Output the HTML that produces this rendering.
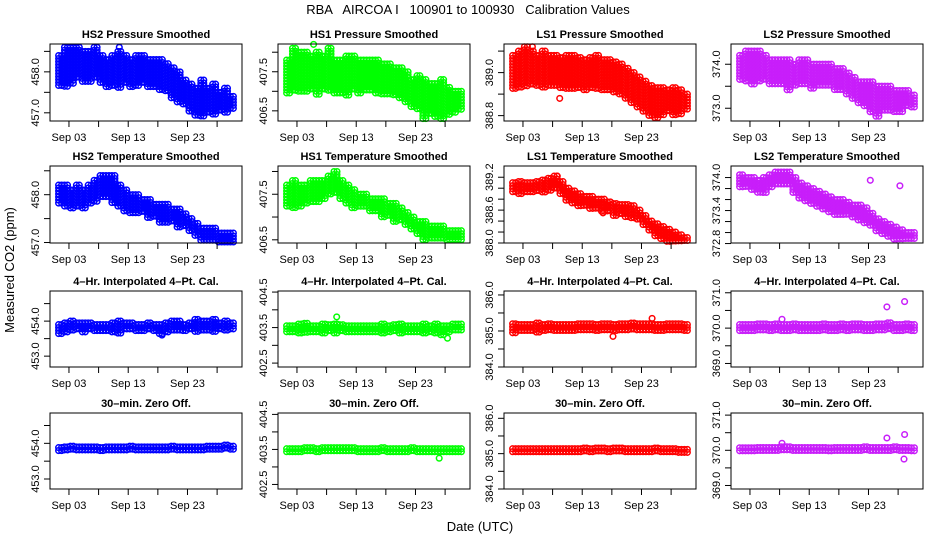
<!DOCTYPE html>
<html><head><meta charset="utf-8"><style>
html,body{margin:0;padding:0;background:#fff;}
svg{display:block;font-family:"Liberation Sans",sans-serif;}
</style></head><body>
<svg id="chart" width="936" height="540" xmlns="http://www.w3.org/2000/svg">
<text x="468" y="14" text-anchor="middle" font-size="13" style="white-space:pre" xml:space="preserve">RBA   AIRCOA I   100901 to 100930   Calibration Values</text>
<text transform="translate(14,270) rotate(-90)" text-anchor="middle" font-size="13">Measured CO2 (ppm)</text>
<text x="480" y="531" text-anchor="middle" font-size="13">Date (UTC)</text>
</svg>
<script>
// x axis: days since Sep 01 00:00
const xTickDays = [2,7,12,17,22,27];
const xTickLabels = ["Sep 03","","Sep 13","","Sep 23",""];
const panelTitles = ["HS2 Pressure Smoothed","HS1 Pressure Smoothed","LS1 Pressure Smoothed","LS2 Pressure Smoothed",
"HS2 Temperature Smoothed","HS1 Temperature Smoothed","LS1 Temperature Smoothed","LS2 Temperature Smoothed",
"4\u2013Hr. Interpolated 4\u2013Pt. Cal.","4\u2013Hr. Interpolated 4\u2013Pt. Cal.","4\u2013Hr. Interpolated 4\u2013Pt. Cal.","4\u2013Hr. Interpolated 4\u2013Pt. Cal.",
"30\u2013min. Zero Off.","30\u2013min. Zero Off.","30\u2013min. Zero Off.","30\u2013min. Zero Off."];
const yDomains = [[456.8,458.68],[406.24,408.21],[388.775,389.133],[372.71,374.46],
[456.99,458.6],[406.43,408.12],[388.0,389.405],[372.81,374.21],
[452.69,454.86],[402.39,404.53],[384.0,386.11],[368.9,371.05],
[452.72,454.85],[402.37,404.54],[384.0,386.15],[368.9,371.06]];
const yTicks = [[457,457.5,458,458.5],[406.5,407,407.5,408],[388.8,388.9,389.0,389.1],[373,373.5,374],
[457,457.5,458,458.5],[406.5,407,407.5,408],[388.0,388.2,388.4,388.6,388.8,389.0,389.2],[372.8,373.0,373.2,373.4,373.6,373.8,374.0],
[453,453.5,454,454.5],[402.5,403,403.5,404,404.5],[384,384.5,385,385.5,386],[369,369.5,370,370.5,371],
[453,453.5,454,454.5],[402.5,403,403.5,404,404.5],[384,384.5,385,385.5,386],[369,369.5,370,370.5,371]];
const yTickLabels = [["457.0","","458.0",""],["406.5","","407.5",""],["388.8","","389.0",""],["373.0","","374.0"],
["457.0","","458.0",""],["406.5","","407.5",""],["388.0","","","388.6","","","389.2"],["372.8","","","373.4","","","374.0"],
["453.0","","454.0",""],["402.5","","403.5","","404.5"],["384.0","","385.0","","386.0"],["369.0","","370.0","","371.0"],
["453.0","","454.0",""],["402.5","","403.5","","404.5"],["384.0","","385.0","","386.0"],["369.0","","370.0","","371.0"]];
// daily low / high of each cloud (30 days)
const lo0=[457.6,457.6,457.7,457.8,457.7,457.7,457.8,457.7,457.6,457.6,457.6,457.7,457.6,457.6,457.7,457.6,457.6,457.5,457.5,457.3,457.2,457.2,457.0,456.9,456.9,457.0,456.9,457.0,457.0,457.1];
const hi0=[458.4,458.6,458.6,458.6,458.5,458.5,458.6,458.4,458.3,458.4,458.5,458.4,458.3,458.4,458.4,458.3,458.3,458.3,458.2,458.1,458.0,457.8,457.7,457.6,457.8,457.6,457.7,457.5,457.6,457.4];
const lo1=[406.9,407.0,407.0,407.0,407.0,406.9,407.0,407.0,406.9,406.9,406.9,407.0,406.9,407.0,407.0,406.9,406.9,406.9,406.9,406.8,406.7,406.6,406.5,406.3,406.4,406.3,406.3,406.4,406.4,406.5];
const hi1=[407.8,408.1,408.0,408.0,407.9,408.0,407.9,408.1,407.8,407.8,407.9,407.9,407.8,407.8,407.8,407.8,407.7,407.7,407.6,407.6,407.5,407.3,407.4,407.3,407.2,407.2,407.3,407.1,407.0,407.0];
const lo2=[388.92,388.92,388.93,388.94,388.93,388.93,388.93,388.94,388.93,388.92,388.92,388.93,388.92,388.92,388.92,388.91,388.91,388.9,388.9,388.88,388.86,388.84,388.82,388.8,388.79,388.8,388.81,388.8,388.8,388.82];
const hi2=[389.08,389.1,389.12,389.1,389.08,389.1,389.08,389.08,389.07,389.08,389.08,389.07,389.06,389.07,389.08,389.06,389.06,389.05,389.04,389.02,389.0,388.98,388.96,388.94,388.93,388.93,388.92,388.93,388.92,388.9];
const lo3=[373.6,373.6,373.5,373.6,373.6,373.5,373.5,373.5,373.4,373.5,373.5,373.5,373.4,373.5,373.5,373.5,373.4,373.4,373.3,373.2,373.1,373.0,372.9,372.8,372.9,372.9,372.9,372.9,373.0,373.0];
const hi3=[374.2,374.3,374.3,374.3,374.2,374.1,374.1,374.1,374.1,374.0,374.1,374.1,374.0,374.0,374.0,374.0,373.9,373.9,373.8,373.7,373.6,373.6,373.6,373.5,373.5,373.5,373.4,373.4,373.4,373.3];
const lo4=[457.8,457.7,457.7,457.7,457.7,457.8,457.8,457.9,457.9,457.8,457.7,457.6,457.6,457.6,457.6,457.5,457.5,457.4,457.4,457.4,457.3,457.3,457.2,457.1,457.0,457.0,457.0,457.0,457.0,457.0];
const hi4=[458.2,458.2,458.1,458.2,458.1,458.2,458.3,458.4,458.4,458.4,458.2,458.1,458.0,458.0,457.9,457.9,457.8,457.8,457.8,457.7,457.7,457.6,457.5,457.4,457.3,457.3,457.3,457.2,457.2,457.2];
const lo5=[407.2,407.2,407.2,407.3,407.3,407.3,407.4,407.5,407.5,407.4,407.3,407.2,407.2,407.2,407.1,407.1,407.0,407.0,406.9,406.9,406.8,406.7,406.6,406.5,406.5,406.5,406.5,406.5,406.5,406.5];
const hi5=[407.7,407.8,407.7,407.7,407.8,407.8,407.8,407.9,408.0,407.8,407.7,407.6,407.5,407.5,407.4,407.4,407.4,407.3,407.3,407.2,407.1,407.0,406.9,406.9,406.8,406.8,406.8,406.7,406.7,406.7];
const lo6=[388.9,388.88,388.9,388.9,388.92,388.92,388.94,388.96,388.85,388.75,388.7,388.65,388.65,388.6,388.6,388.55,388.55,388.5,388.5,388.48,388.45,388.4,388.3,388.2,388.1,388.05,388.0,388.0,388.0,388.0];
const hi6=[389.1,389.12,389.1,389.1,389.12,389.15,389.18,389.22,389.12,389.0,388.95,388.9,388.85,388.85,388.8,388.8,388.75,388.72,388.7,388.7,388.68,388.6,388.5,388.4,388.35,388.3,388.25,388.2,388.15,388.1];
const lo7=[373.8,373.8,373.75,373.7,373.7,373.8,373.85,373.85,373.85,373.7,373.6,373.55,373.5,373.45,373.4,373.35,373.3,373.3,373.3,373.25,373.2,373.15,373.1,373.0,372.95,372.9,372.85,372.85,372.85,372.85];
const hi7=[374.05,374.0,374.0,373.95,374.0,374.05,374.1,374.1,374.1,374.0,373.9,373.85,373.8,373.75,373.7,373.65,373.6,373.6,373.55,373.5,373.5,373.45,373.35,373.25,373.2,373.15,373.1,373.05,373.0,373.0];
const lo8=[453.62,453.62,453.7,453.7,453.68,453.7,453.66,453.7,453.68,453.68,453.62,453.7,453.7,453.7,453.68,453.7,453.7,453.6,453.68,453.7,453.7,453.66,453.7,453.7,453.7,453.7,453.7,453.7,453.7,453.72];
const hi8=[453.9,453.95,454.0,453.95,453.95,453.95,453.9,453.9,453.9,453.95,454.0,453.95,453.95,453.9,453.9,453.95,453.9,453.9,453.95,454.0,454.0,453.9,453.95,454.05,454.0,454.0,454.05,453.95,454.0,453.95];
const lo9=[403.3,403.3,403.3,403.32,403.33,403.3,403.33,403.33,403.3,403.33,403.35,403.33,403.35,403.35,403.35,403.33,403.33,403.35,403.35,403.33,403.33,403.35,403.33,403.33,403.3,403.33,403.28,403.33,403.35,403.38];
const hi9=[403.55,403.55,403.6,403.62,403.55,403.55,403.6,403.58,403.6,403.58,403.55,403.55,403.55,403.55,403.55,403.55,403.6,403.55,403.58,403.6,403.55,403.55,403.55,403.6,403.55,403.6,403.55,403.55,403.6,403.6];
const lo10=[384.95,384.97,384.97,384.98,384.97,384.98,384.98,384.97,384.97,384.98,384.98,384.97,384.97,384.98,384.98,384.97,384.97,384.97,384.98,384.98,384.98,384.98,384.97,384.98,384.97,384.98,384.98,384.98,384.97,384.98];
const hi10=[385.2,385.18,385.18,385.18,385.22,385.18,385.2,385.18,385.18,385.18,385.18,385.2,385.2,385.2,385.18,385.2,385.2,385.18,385.2,385.2,385.22,385.2,385.2,385.2,385.18,385.18,385.2,385.2,385.2,385.18];
const lo11=[369.88,369.88,369.88,369.9,369.88,369.88,369.9,369.9,369.88,369.9,369.88,369.88,369.88,369.88,369.9,369.88,369.88,369.88,369.9,369.9,369.9,369.88,369.88,369.9,369.88,369.9,369.88,369.88,369.88,369.9];
const hi11=[370.1,370.1,370.1,370.12,370.12,370.1,370.12,370.1,370.1,370.12,370.1,370.1,370.1,370.1,370.12,370.1,370.1,370.12,370.1,370.12,370.12,370.1,370.1,370.12,370.12,370.15,370.1,370.1,370.12,370.1];
const lo12=[453.76,453.78,453.78,453.78,453.78,453.76,453.78,453.78,453.76,453.78,453.78,453.78,453.78,453.78,453.78,453.78,453.78,453.78,453.78,453.78,453.78,453.78,453.78,453.78,453.78,453.78,453.78,453.8,453.8,453.8];
const hi12=[453.88,453.9,453.92,453.9,453.9,453.9,453.9,453.88,453.9,453.9,453.9,453.9,453.92,453.9,453.9,453.9,453.9,453.9,453.9,453.92,453.9,453.9,453.9,453.9,453.9,453.92,453.92,453.92,453.95,453.92];
const lo13=[403.38,403.38,403.38,403.4,403.4,403.4,403.38,403.4,403.4,403.4,403.4,403.4,403.4,403.4,403.4,403.4,403.4,403.4,403.4,403.4,403.4,403.4,403.4,403.4,403.4,403.4,403.4,403.4,403.4,403.4];
const hi13=[403.52,403.52,403.52,403.55,403.55,403.52,403.55,403.55,403.55,403.55,403.55,403.55,403.52,403.52,403.52,403.52,403.55,403.52,403.52,403.52,403.52,403.55,403.52,403.52,403.52,403.52,403.52,403.52,403.52,403.52];
const lo14=[385.0,385.0,385.0,385.0,385.0,385.0,385.0,385.0,385.0,385.0,385.0,385.0,385.0,385.0,385.0,385.0,385.0,385.0,385.0,385.0,385.0,385.0,385.0,385.0,385.0,384.98,385.0,385.0,385.0,385.0];
const hi14=[385.14,385.14,385.14,385.14,385.14,385.14,385.14,385.14,385.14,385.14,385.14,385.14,385.16,385.14,385.16,385.16,385.14,385.16,385.16,385.14,385.14,385.14,385.14,385.14,385.16,385.14,385.14,385.14,385.12,385.12];
const lo15=[369.93,369.93,369.93,369.93,369.93,369.93,369.93,369.93,369.93,369.93,369.93,369.93,369.93,369.92,369.93,369.93,369.93,369.93,369.93,369.93,369.93,369.93,369.93,369.93,369.93,369.92,369.93,369.93,369.93,369.93];
const hi15=[370.07,370.07,370.07,370.08,370.08,370.08,370.08,370.1,370.1,370.08,370.08,370.08,370.08,370.08,370.08,370.07,370.08,370.08,370.08,370.08,370.08,370.1,370.08,370.08,370.08,370.08,370.1,370.08,370.08,370.07];
const lows=[lo0,lo1,lo2,lo3,lo4,lo5,lo6,lo7,lo8,lo9,lo10,lo11,lo12,lo13,lo14,lo15];
const highs=[hi0,hi1,hi2,hi3,hi4,hi5,hi6,hi7,hi8,hi9,hi10,hi11,hi12,hi13,hi14,hi15];
// isolated outlier points [panel, day, value]
const outliers=[[0,10.5,458.6],[1,4.8,408.2],[2,3.6,389.12],[2,8.2,388.88],[6,7.8,389.22],[6,15.5,388.55],[7,22.3,373.95],[7,27.3,373.85],[7,14.2,373.6],
[8,17.7,453.6],[9,8.7,403.8],[9,27.4,403.2],[10,17.2,384.85],[10,23.8,385.35],[11,25.1,370.6],[11,28.1,370.75],[11,7.4,370.25],
[13,26.0,403.25],[15,25.1,370.35],[15,28.1,370.45],[15,28.0,369.75],[15,7.4,370.2]];
const colors=["#0000ff","#00ff00","#ff0000","#c81efa"];

const lefts=[50,278,504,731], tops=[44,166,291,413], W=192, H=[77,77,76,76];
const svg=document.getElementById('chart');
const NS="http://www.w3.org/2000/svg";
function mk(tag,attrs,parent){const e=document.createElementNS(NS,tag);for(const k in attrs)e.setAttribute(k,attrs[k]);(parent||svg).appendChild(e);return e;}
for(let p=0;p<16;p++){
  const c=p%4,r=Math.floor(p/4);
  const L=lefts[c],T=tops[r],h=H[r];
  const dom=yDomains[p];
  const sx=t=>L+(t+1.2)/32.4*W;
  const sy=v=>T+h-(v-dom[0])/(dom[1]-dom[0])*h;
  const g=mk('g',{});
  
  
  const tt=mk('text',{x:L+W/2,y:T-6,'text-anchor':'middle','font-size':'11','font-weight':'bold'},g);
  tt.textContent=panelTitles[p];
  
  
  const pts=mk('g',{fill:'none','stroke-width':'1.5'},g);
  
  
  const lo=lows[p],hi=highs[p];
  for(let d=0;d<lo.length;d++){
    for(const f of [0.25,0.75]){
      const x=sx(d+f);
      const y1=sy(hi[d]),y0=sy(lo[d]);
      for(let y=y1;y<=y0+0.01;y+=3){
        mk('circle',{cx:x.toFixed(1),cy:y.toFixed(1),r:'2.8',stroke:colors[c]},pts);
      }
      if(y0-y1<3){mk('circle',{cx:x.toFixed(1),cy:y0.toFixed(1),r:'2.8',stroke:colors[c]},pts);}
    }
  }
  for(const o of outliers){ if(o[0]!==p) continue;
    const oc=mk('circle',{cx:sx(o[1]).toFixed(1),cy:sy(o[2]).toFixed(1),r:'2.8',stroke:colors[c]},pts);
    
    
  }
  const box=mk('rect',{x:L,y:T,width:W,height:h,fill:'none',stroke:'#000','stroke-width':'1'},g);
  
  
  const xa=mk('g',{},g);
  
  
  xTickDays.forEach((t,i)=>{
    const x=sx(t);
    mk('line',{x1:x,x2:x,y1:T+h,y2:T+h+6,stroke:'#000'},xa);
    if(xTickLabels[i]){const tx=mk('text',{x:x,y:T+h+20,'text-anchor':'middle','font-size':'11'},xa);tx.textContent=xTickLabels[i];
      
      }
  });
  const ya=mk('g',{},g);
  
  
  yTicks[p].forEach((v,i)=>{
    const y=sy(v);
    mk('line',{x1:L-6,x2:L,y1:y,y2:y,stroke:'#000'},ya);
    const lab=yTickLabels[p][i];
    if(lab){const tx=mk('text',{transform:'translate('+(L-11)+','+y.toFixed(1)+') rotate(-90)','text-anchor':'middle','font-size':'11'},ya);tx.textContent=lab;
      
      }
  });
}
</script>
</body></html>
